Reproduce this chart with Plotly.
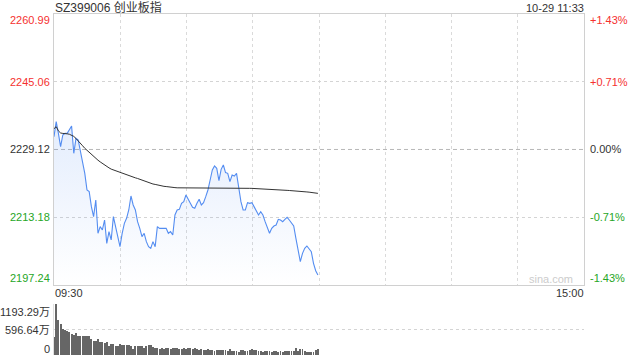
import plotly.graph_objects as go

# ---------------- data ----------------
title_text = "SZ399006 创业板指"
stamp_text = "10-29 11:33"
time_start, time_end = "09:30", "15:00"
total_slots = 241

price_ticks = [2260.99, 2245.06, 2229.12, 2213.18, 2197.24]
pct_ticks = ["+1.43%", "+0.71%", "0.00%", "-0.71%", "-1.43%"]
tick_colors = ["#f5312f", "#f5312f", "#333333", "#26a626", "#26a626"]
vol_ticks = [1193.29, 596.64, 0]
vol_tick_text = ["1193.29万", "596.64万", "0"]

price = [
    2232.14, 2235.66, 2232.92, 2229.78, 2232.53, 2232.92, 2232.92, 2233.70, 2234.65, 2228.22,
    2231.74, 2231.35, 2229.00, 2226.25, 2223.51, 2219.59, 2219.20, 2215.67, 2213.32, 2217.24,
    2209.40, 2210.97, 2210.18, 2212.53, 2207.04, 2209.79, 2207.83, 2213.32, 2210.97, 2209.40,
    2206.26, 2209.40, 2211.75, 2212.93, 2214.89, 2218.18, 2216.06, 2214.89, 2212.14, 2210.57,
    2208.61, 2209.40, 2207.44, 2206.26, 2205.87, 2207.44, 2206.26, 2210.97, 2210.57, 2210.60,
    2210.57, 2210.57, 2209.40, 2209.79, 2209.00, 2213.71, 2214.89, 2215.04, 2216.45, 2216.85,
    2218.42, 2217.24, 2216.45, 2215.51, 2215.28, 2216.45, 2217.40, 2216.06, 2216.61, 2218.02,
    2219.59, 2221.94, 2224.30, 2225.24, 2224.69, 2221.79, 2224.45, 2225.47, 2223.67, 2223.51,
    2221.55, 2223.12, 2222.88, 2223.51, 2219.59, 2216.85, 2214.89, 2214.89, 2216.61, 2216.45,
    2216.61, 2215.67, 2214.50, 2213.71, 2214.50, 2213.71, 2212.14, 2210.81, 2209.40, 2210.57,
    2211.12, 2211.36, 2212.69, 2212.53, 2212.14, 2212.70, 2213.16, 2212.53, 2211.75, 2211.12,
    2208.22, 2205.48, 2202.73, 2204.69, 2205.87, 2206.42, 2205.87, 2205.08, 2202.34, 2200.60,
    2199.60,
]

avg_price = [
    2234.0, 2234.5, 2233.5, 2233.0, 2232.9, 2232.9, 2232.8, 2232.7, 2232.5, 2232.2,
    2231.7, 2231.2, 2230.6, 2230.0, 2229.4, 2228.9, 2228.4, 2227.9, 2227.4, 2227.0,
    2226.6, 2226.2, 2225.8, 2225.5, 2225.1, 2224.8, 2224.5, 2224.3, 2224.1, 2223.9,
    2223.7, 2223.5, 2223.3, 2223.1, 2222.95, 2222.8, 2222.6, 2222.45, 2222.3, 2222.1,
    2221.9, 2221.75, 2221.55, 2221.4, 2221.2, 2221.0, 2220.9, 2220.75, 2220.6, 2220.55,
    2220.45, 2220.4, 2220.3, 2220.25, 2220.2, 2220.15, 2220.1, 2220.1, 2220.05, 2220.05,
    2220.0, 2220.0, 2220.0, 2220.0, 2220.0, 2220.0, 2220.0, 2220.0, 2220.0, 2220.02,
    2220.05, 2220.07, 2220.1, 2220.12, 2220.13, 2220.14, 2220.15, 2220.15, 2220.15, 2220.15,
    2220.15, 2220.13, 2220.12, 2220.1, 2220.08, 2220.06, 2220.04, 2220.02, 2220.0, 2219.98,
    2219.97, 2219.95, 2219.93, 2219.9, 2219.88, 2219.85, 2219.82, 2219.8, 2219.77, 2219.74,
    2219.7, 2219.66, 2219.62, 2219.58, 2219.55, 2219.52, 2219.5, 2219.47, 2219.45, 2219.42,
    2219.38, 2219.33, 2219.28, 2219.23, 2219.18, 2219.13, 2219.08, 2219.02, 2218.95, 2218.88,
    2218.8,
]

volume = [
    414, 1193.29, 819, 725, 616, 585, 554, 531, 491, 470,
    507, 452, 433, 433, 452, 433, 440, 374, 335, 335,
    374, 296, 296, 290, 296, 218, 257, 257, 218, 199,
    257, 242, 242, 235, 225, 205, 140, 209, 205, 209,
    205, 164, 218, 242, 230, 187, 175, 160, 140, 164,
    140, 164, 164, 140, 164, 164, 164, 140, 140, 164,
    140, 170, 156, 140, 164, 140, 117, 140, 117, 117,
    140, 125, 117, 94, 117, 117, 117, 117, 117, 94,
    140, 94, 94, 94, 78, 110, 117, 94, 94, 117,
    140, 117, 117, 94, 94, 78, 94, 94, 94, 78,
    94, 94, 78, 94, 78, 94, 94, 94, 94, 94,
    156, 94, 140, 140, 94, 78, 62, 78, 78, 110,
    140,
]

minutes = list(range(len(price)))

# ---------------- figure ----------------
FONT = "Arial, Liberation Sans, Noto Sans CJK SC, sans-serif"
W, H = 640, 360
x0, x1 = 54 / W, 584 / W
main_dom = [1 - 285 / H, 1 - 14 / H]
vol_dom = [1 - 355 / H, 1 - 304 / H]

fig = go.Figure()

fig.add_trace(go.Scatter(
    x=minutes, y=price, mode="lines",
    line=dict(color="#548df1", width=1.1),
    fill="tozeroy",
    fillgradient=dict(type="vertical",
                      colorscale=[[0, "rgba(84,141,241,0.0)"], [1, "rgba(84,141,241,0.16)"]],
                      start=price_ticks[-1], stop=max(price)),
    hoverinfo="skip", xaxis="x", yaxis="y",
))
fig.add_trace(go.Scatter(
    x=minutes, y=avg_price, mode="lines",
    line=dict(color="#333333", width=1),
    hoverinfo="skip", xaxis="x", yaxis="y",
))
fig.add_trace(go.Bar(
    x=minutes, y=volume, width=0.42,
    marker=dict(color="#666666", line=dict(width=0)),
    hoverinfo="skip", xaxis="x2", yaxis="y2",
))

grid_x = [total_slots * k / 8 for k in range(1, 8)]

fig.update_layout(
    width=W, height=H,
    margin=dict(l=0, r=0, t=0, b=0),
    paper_bgcolor="white", plot_bgcolor="white",
    showlegend=False,
    font=dict(family=FONT, size=11, color="#333"),
    bargap=0,
    xaxis=dict(domain=[x0, x1], range=[0, total_slots], anchor="y",
               tickvals=grid_x, showticklabels=False, ticks="",
               showgrid=True, gridcolor="#dadada", griddash="dot", gridwidth=1,
               showline=True, mirror=True, linecolor="#d0d0d0", linewidth=1,
               zeroline=False, fixedrange=True),
    yaxis=dict(domain=main_dom, range=[price_ticks[-1], price_ticks[0]], anchor="x",
               tickvals=[price_ticks[1], price_ticks[3]], showticklabels=False, ticks="",
               showgrid=True, gridcolor="#d4d4d4", griddash="dot", gridwidth=1,
               showline=True, mirror=True, linecolor="#d0d0d0", linewidth=1,
               zeroline=False, fixedrange=True),
    xaxis2=dict(domain=[x0, x1], range=[0, total_slots], anchor="y2",
                showticklabels=False, ticks="", showgrid=False,
                showline=False, zeroline=False, fixedrange=True),
    yaxis2=dict(domain=vol_dom, range=[0, vol_ticks[0]], anchor="x2",
                tickvals=vol_ticks, showticklabels=False, ticks="",
                showgrid=True, gridcolor="#d4d4d4", griddash="dot", gridwidth=1,
                showline=True, linecolor="#e0e0e0", linewidth=1,
                zeroline=False, fixedrange=True),
)

# pre-close reference line
fig.add_shape(type="line", xref="x domain", yref="y", x0=0, x1=1,
              y0=price_ticks[2], y1=price_ticks[2],
              line=dict(color="#b8b8b8", width=1, dash="4px,3px"), layer="below")

ann = []
shifts = [-6, 0, 0, 0, 7]
for v, pct, c, s in zip(price_ticks, pct_ticks, tick_colors, shifts):
    ann.append(dict(x=51 / W, xref="paper", y=v, yref="y", yshift=s,
                    text=f"{v:.2f}", showarrow=False, xanchor="right", yanchor="middle",
                    font=dict(size=11, color=c, family=FONT)))
    ann.append(dict(x=589 / W, xref="paper", y=v, yref="y", yshift=s,
                    text=pct, showarrow=False, xanchor="left", yanchor="middle",
                    font=dict(size=11, color=c, family=FONT)))
vshifts = [-7.5, 0, 6.5]
for v, t, s in zip(vol_ticks, vol_tick_text, vshifts):
    ann.append(dict(x=51 / W, xref="paper", y=v, yref="y2", yshift=s,
                    text=t, showarrow=False, xanchor="right", yanchor="middle",
                    font=dict(size=11, color="#333", family=FONT)))

ann.append(dict(x=54 / W, xref="paper", y=1 - 7.5 / H, yref="paper", text=title_text,
                showarrow=False, xanchor="left", yanchor="middle",
                font=dict(size=12, color="#333", family=FONT)))
ann.append(dict(x=585 / W, xref="paper", y=1 - 7.5 / H, yref="paper", text=stamp_text,
                showarrow=False, xanchor="right", yanchor="middle",
                font=dict(size=11, color="#333", family=FONT)))
ann.append(dict(x=54 / W, xref="paper", y=1 - 293 / H, yref="paper", text=time_start,
                showarrow=False, xanchor="left", yanchor="middle",
                font=dict(size=11, color="#333", family=FONT)))
ann.append(dict(x=585 / W, xref="paper", y=1 - 293 / H, yref="paper", text=time_end,
                showarrow=False, xanchor="right", yanchor="middle",
                font=dict(size=11, color="#333", family=FONT)))
ann.append(dict(x=574 / W, xref="paper", y=1 - 279 / H, yref="paper", text="sina.com",
                showarrow=False, xanchor="right", yanchor="middle",
                font=dict(size=11, color="#cccccc", family=FONT)))
for a in ann:
    a["borderpad"] = 0
fig.update_layout(annotations=ann)

fig.write_html("out.html", config={"displayModeBar": False})
